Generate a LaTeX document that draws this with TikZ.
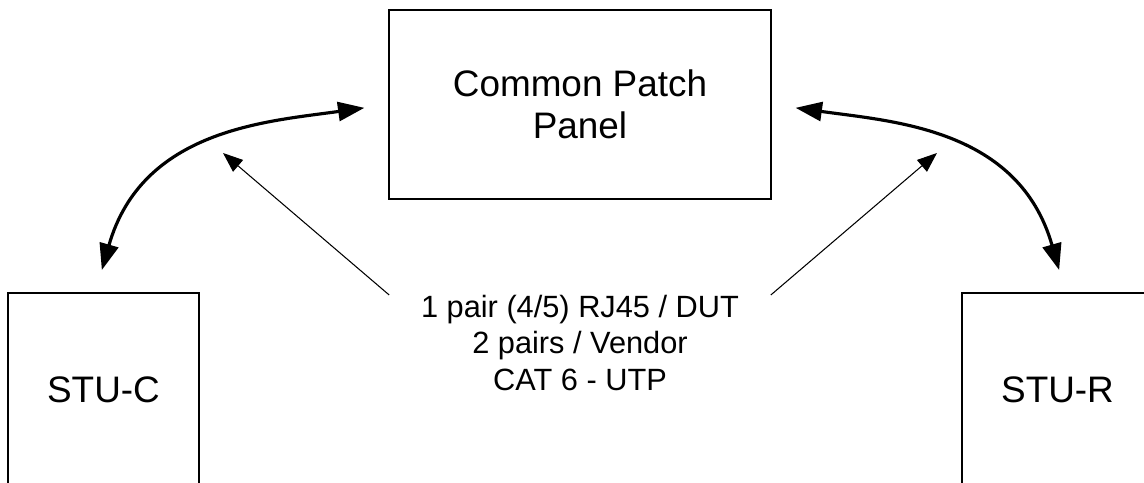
\documentclass[tikz,border=0pt]{standalone}
\usepackage{fontspec}
\setmainfont{Liberation Sans}
\usetikzlibrary{arrows.meta}

\begin{document}
\begin{tikzpicture}[x=0.02cm,y=0.02cm,
	unit/.style={draw=black, line width=1pt, inner sep=0pt, align=center, font=\fontsize{21}{24}\selectfont},
	link/.style={line width=1.8pt, {Triangle[length=15pt,width=10.8pt]}-{Triangle[length=15pt,width=10.8pt]}},
	feed/.style={line width=0.6pt, -{Triangle[length=11.3pt,width=8.7pt]}}]
	\useasboundingbox (0,0) rectangle (1144,483);
	\clip (0,0) rectangle (1144,483);
	% boxes
	\node[unit, minimum width=7.64cm, minimum height=3.78cm] (panel) at (580,378.5) {Common Patch\\Panel};
	\node[unit, minimum width=3.82cm, minimum height=3.86cm] (stuc) at (103.5,93.5) {STU-C};
	\node[unit, minimum width=3.82cm, minimum height=3.86cm] (stur) at (1057.5,93.5) {STU-R};
	\node[anchor=north, inner sep=0pt, minimum width=7.62cm, align=center, font=\fontsize{17.5}{20.6}\selectfont] (cable) at (580,188) {1 pair (4/5) RJ45 / DUT\\2 pairs / Vendor\\CAT 6 - UTP};
	\coordinate (lhit) at (223,330);
	\coordinate (rhit) at (937,330);
	% connections
	\draw[link, shorten <=0.46cm, shorten >=0.48cm] ([xshift=-0.16cm]stuc.north) to[out=74, in=188, out looseness=1.25, in looseness=0.9] (panel.west);
	\draw[link, shorten <=0.48cm, shorten >=0.46cm] (panel.east) to[out=-8, in=106, out looseness=0.9, in looseness=1.25] ([xshift=0.16cm]stur.north);
	\draw[feed] (cable.north west) -- (lhit);
	\draw[feed] (cable.north east) -- (rhit);
\end{tikzpicture}
\end{document}
